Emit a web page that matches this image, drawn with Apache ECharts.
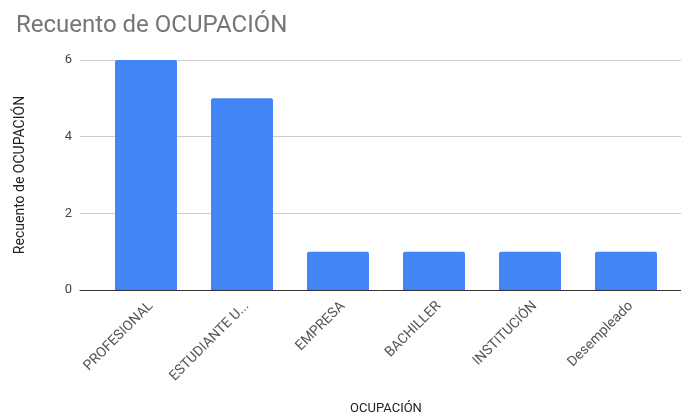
<!DOCTYPE html>
<html>
<head>
    <meta charset="utf-8">
    <script src="https://cdn.jsdelivr.net/npm/echarts@6/dist/echarts.min.js"></script>
    <style>
        html, body { margin: 0; padding: 0; background: #fff; }
        #dom { width: 681px; height: 418px; }
    </style>
</head>
<body>
<div id="dom"></div>
<script type="text/javascript">
    var categories = ['PROFESIONAL', 'ESTUDIANTE U...', 'EMPRESA', 'BACHILLER', 'INSTITUCIÓN', 'Desempleado'];
    var counts = [6, 5, 1, 1, 1, 1];
    var yTicks = [0, 2, 4, 6];

    var myChart = echarts.init(document.getElementById('dom'));
    var font = 'Roboto';
    var option = {
        animation: false,
        title: {
            text: 'Recuento de OCUPACIÓN',
            left: 11,
            top: 9,
            textStyle: { fontFamily: font, fontSize: 24, fontWeight: 'normal', color: '#757575' }
        },
        grid: [
            // fondo: lineas de cuadricula y etiquetas del eje y
            { left: 80, right: 0, top: 60, bottom: 128, outerBoundsMode: 'none' },
            // barras
            { left: 98, right: 7, top: 60, bottom: 128, outerBoundsMode: 'none' }
        ],
        xAxis: [
            {
                gridIndex: 0,
                type: 'category',
                data: categories,
                axisLine: { show: true, lineStyle: { color: '#333', width: 1 } },
                axisTick: { show: false },
                axisLabel: { show: false }
            },
            {
                gridIndex: 1,
                type: 'category',
                data: categories,
                name: 'OCUPACIÓN',
                nameLocation: 'middle',
                nameGap: 112,
                nameTextStyle: { fontFamily: font, fontSize: 13, color: '#222' },
                axisLine: { show: false },
                axisTick: { show: false },
                axisLabel: { rotate: 45, margin: 9, verticalAlign: 'top', fontFamily: font, fontSize: 14, color: '#555' }
            }
        ],
        yAxis: [
            {
                gridIndex: 0,
                type: 'value',
                min: yTicks[0],
                max: yTicks[yTicks.length - 1],
                interval: 2,
                name: 'Recuento de OCUPACIÓN',
                nameLocation: 'middle',
                nameGap: 53,
                nameTextStyle: { fontFamily: font, fontSize: 14, color: '#222' },
                axisLine: { show: false },
                axisTick: { show: false },
                axisLabel: { margin: 8, fontFamily: font, fontSize: 13, color: '#444' },
                splitLine: { lineStyle: { color: '#ccc', width: 1 } }
            },
            {
                gridIndex: 1,
                type: 'value',
                min: yTicks[0],
                max: yTicks[yTicks.length - 1],
                interval: 2,
                axisLine: { show: false },
                axisTick: { show: false },
                axisLabel: { show: false },
                splitLine: { show: false }
            }
        ],
        series: [
            {
                name: 'Recuento de OCUPACIÓN',
                type: 'bar',
                xAxisIndex: 1,
                yAxisIndex: 1,
                data: counts,
                barWidth: 62,
                itemStyle: { color: '#4285F4', borderRadius: [2, 2, 0, 0] },
                z: 3
            }
        ]
    };
    myChart.setOption(option);
</script>
</body>
</html>
